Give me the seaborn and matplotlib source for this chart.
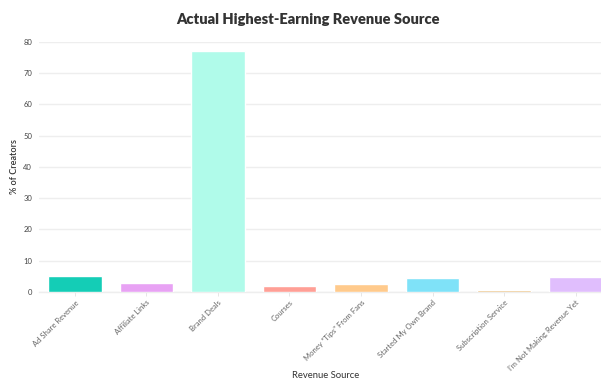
import matplotlib
matplotlib.use("Agg")
import matplotlib.pyplot as plt
import seaborn as sns
import pandas as pd

# Revenue source categories and share of creators (%)
sources = [
    "Ad Share Revenue",
    "Affiliate Links",
    "Brand Deals",
    "Courses",
    "Money \u201cTips\u201d From Fans",
    "Started My Own Brand",
    "Subscription Service",
    "I\u2019m Not Making Revenue Yet",
]
pct_creators = [5.2, 2.9, 77.2, 1.8, 2.7, 4.6, 0.7, 4.8]
bar_colors = ["#14CDB6", "#E8A2F4", "#B0FBEA", "#FF9F96",
              "#FFCA8C", "#7FE2F8", "#EBC080", "#E0BEFD"]
y_ticks = [0, 10, 20, 30, 40, 50, 60, 70, 80]

df = pd.DataFrame({"source": sources, "pct": pct_creators})

sns.set_theme(style="white")
plt.rcParams["font.family"] = ["Lato", "DejaVu Sans"]

fig = plt.figure(figsize=(6.01, 3.81), dpi=100)
ax = fig.add_axes([0.0649, 0.2336, 0.9526, 0.6562])

sns.barplot(data=df, x="source", y="pct", hue="source", palette=bar_colors,
            legend=False, width=0.75, saturation=1, ax=ax, zorder=3)

ax.set_xlim(-0.5, 7.5)
ax.set_ylim(0, 80)
ax.set_yticks(y_ticks)
ax.grid(axis="y", color="#EEEEEE", linewidth=1.0, zorder=0)
ax.grid(axis="x", visible=False)
for side in ["top", "right", "left"]:
    ax.spines[side].set_visible(False)
ax.spines["bottom"].set_color("#EEEEEE")
ax.spines["bottom"].set_linewidth(1.0)

ax.tick_params(axis="y", length=0, pad=5, labelsize=5.5, labelcolor="#444444")
ax.tick_params(axis="x", length=3, width=0.6, color="#E2E2E2", pad=2,
               labelsize=5.5, labelcolor="#666666", bottom=True)
for lbl in ax.get_xticklabels():
    lbl.set_rotation(45)
    lbl.set_ha("right")
    lbl.set_rotation_mode("anchor")

ax.set_xlabel("")
ax.set_ylabel("% of Creators", fontsize=6.5, color="#333333", fontweight="semibold")
ax.yaxis.set_label_coords(-0.035, 0.5)

fig.text(0.541, 0.002, "Revenue Source", ha="center", va="bottom",
         fontsize=6.8, color="#333333")
fig.text(0.513, 0.948, "Actual Highest-Earning Revenue Source",
         ha="center", va="center", fontsize=10.5, fontweight="heavy", color="#333333")

fig.savefig("out.png", dpi=100, facecolor="white")
